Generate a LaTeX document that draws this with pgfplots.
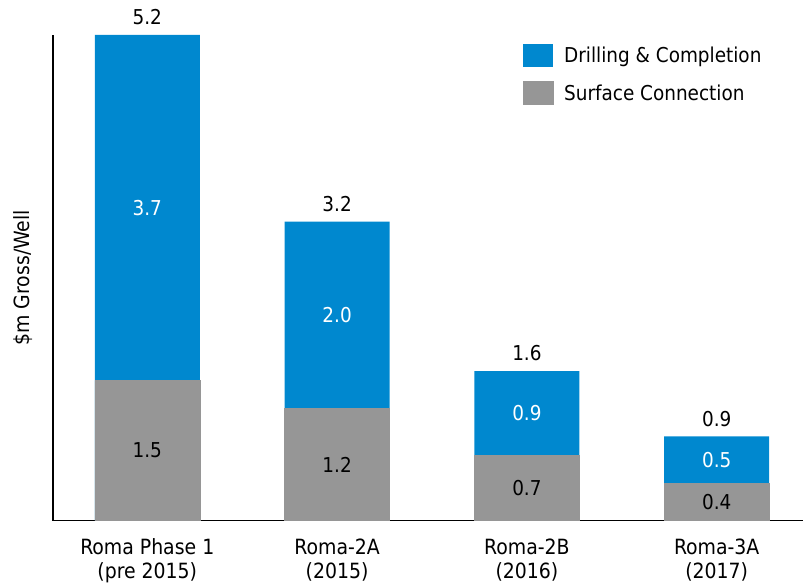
\documentclass[border=0pt]{standalone}
\usepackage{fontspec}
\setmainfont{DejaVu Sans Condensed}
\usepackage{pgfplots}
\pgfplotsset{compat=1.18}
\definecolor{dcblue}{RGB}{0,136,207}
\definecolor{scgray}{RGB}{150,150,150}
\begin{document}
\begin{tikzpicture}
\begin{axis}[
    scale only axis,
    width=751pt, height=486pt,
    xmin=-0.497, xmax=3.456,
    ymin=0, ymax=5.2,
    axis x line*=bottom,
    axis y line*=left,
    axis line style={-, line width=1.5pt},
    ytick=\empty,
    xtick={0,1,2,3},
    xtick style={draw=none},
    xticklabels={{Roma Phase 1\\(pre 2015)},{Roma-2A\\(2015)},{Roma-2B\\(2016)},{Roma-3A\\(2017)}},
    xticklabel style={align=center, font=\fontsize{21}{24}\selectfont, yshift=-14.5pt},
    ylabel={\$m Gross/Well},
    ylabel style={at={(axis description cs:-0.04,0.5)}, anchor=center, font=\fontsize{21}{24}\selectfont},
    clip=false,
    legend cell align=left,
    legend style={draw=none, fill=none, at={(0.626,0.981)}, anchor=north west,
        inner sep=0pt, row sep=14pt, font=\fontsize{20.5}{23}\selectfont,
        /tikz/every odd column/.append style={column sep=9pt}},
    legend image code/.code={\fill[#1] (0pt,-11.5pt) rectangle (30pt,11.5pt);},
]
% Drilling & Completion (bar top = total per well)
\addplot[ybar, bar width=0.553, bar shift=0pt, fill=dcblue, draw=none]
    coordinates {(0,5.2) (1,3.2) (2,1.6) (3,0.9)};
\addlegendentry{Drilling \& Completion}
% Surface Connection
\addplot[ybar, bar width=0.553, bar shift=0pt, fill=scgray, draw=scgray, line width=0.4pt]
    coordinates {(0,1.5) (1,1.2) (2,0.7) (3,0.4)};
\addlegendentry{Surface Connection}
% totals above bars
\addplot[draw=none, forget plot, nodes near coords, point meta=explicit symbolic,
    every node near coord/.style={anchor=south, black, yshift=6.5pt, font=\fontsize{20.5}{23}\selectfont}]
    coordinates {(0,5.2) [5.2] (1,3.2) [3.2] (2,1.6) [1.6] (3,0.9) [0.9]};
% Drilling & Completion values, centred in their segments
\addplot[draw=none, forget plot, nodes near coords, point meta=explicit symbolic,
    every node near coord/.style={anchor=center, white, font=\fontsize{20.5}{23}\selectfont}]
    coordinates {(0,3.35) [3.7] (1,2.2) [2.0] (2,1.15) [0.9] (3,0.65) [0.5]};
% Surface Connection values
\addplot[draw=none, forget plot, nodes near coords, point meta=explicit symbolic,
    every node near coord/.style={anchor=center, black, font=\fontsize{20.5}{23}\selectfont}]
    coordinates {(0,0.75) [1.5] (1,0.6) [1.2] (2,0.35) [0.7] (3,0.2) [0.4]};
\end{axis}
\path (current axis.south west) ++(-53pt,-64pt);
\path (current axis.north east) ++(0pt,35pt);
\end{tikzpicture}
\end{document}
